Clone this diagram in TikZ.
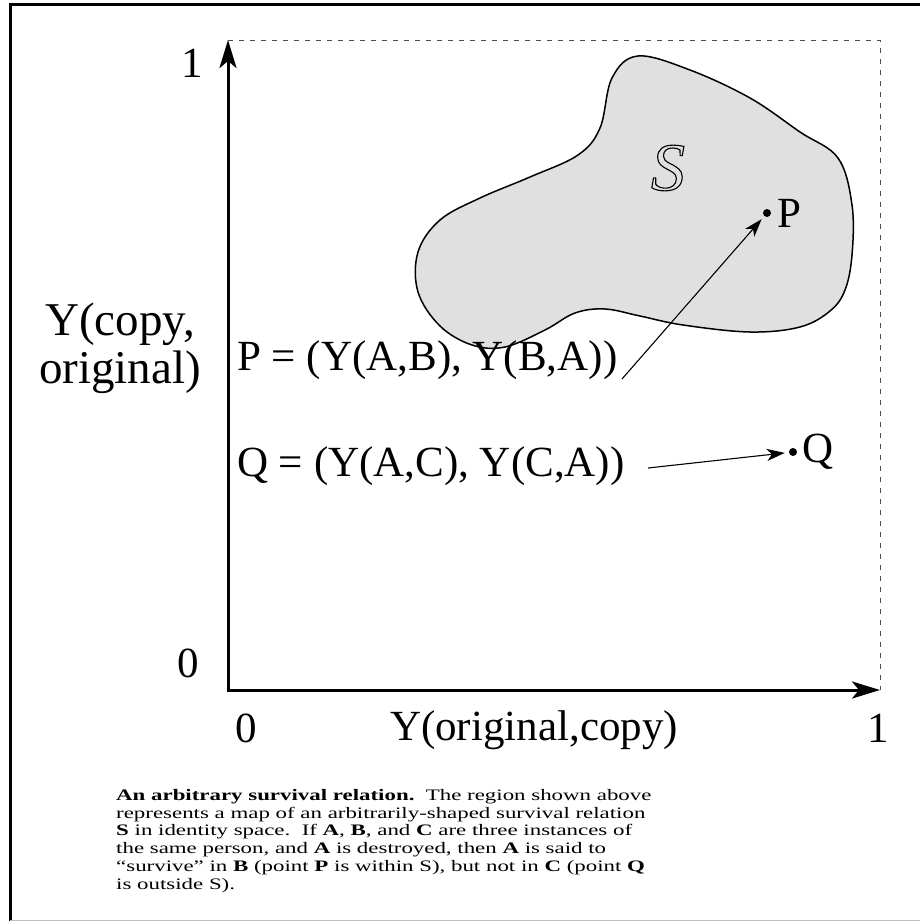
\documentclass[tikz,border=0pt]{standalone}
\usepackage{fontspec}
\setmainfont{Liberation Serif}
\newfontfamily\capfont[Ligatures=TeX,FakeStretch=1.43]{Liberation Serif}
\usetikzlibrary{arrows.meta}

\newcommand{\outlined}[1]{\special{pdf:literal direct 1 Tr 1.1 w}#1\special{pdf:literal direct 0 Tr}}

\begin{document}
\begin{tikzpicture}[
  x=1pt,y=-1pt,
  big/.style={font=\fontsize{43}{47}\selectfont,inner sep=0pt},
  axis/.style={line width=3pt,-{Stealth[length=28pt,width=17pt,inset=7pt]}},
  guide/.style={line width=0.8pt,dash pattern=on 5pt off 6pt,black!70},
  ptr/.style={line width=1.1pt,-{Stealth[length=18pt,width=12pt,inset=5pt]},shorten >=4pt},
  dot/.style={circle,fill,inner sep=0pt,minimum size=8pt},
  region/.style={draw,line width=1.5pt,fill=black!12}
]
\useasboundingbox (0,0) rectangle (920,923);
\draw[line width=3pt] (920,5) -- (10,5) -- (10,921);
\draw[line width=1pt,black!25] (10,920) -- (920,920);

\coordinate (O) at (228,690);
\coordinate (ytop) at (228,40);
\coordinate (xend) at (880,690);
\coordinate (corner) at (880,40);

\draw[region] plot[smooth cycle,tension=0.6] coordinates {
  (638,56) (690,70) (750,98) (800,132) (838,158) (852,205) (852,255)
  (845,290) (830,311) (800,327) (750,332) (683,325) (640,316) (605,309)
  (575,313) (545,330) (505,347) (472,345) (440,326) (418,292) (418,252)
  (440,220) (480,198) (530,177) (578,155) (600,128) (612,78)};
\node[font=\fontsize{68}{68}\selectfont\itshape] (S) at (668,168) {\outlined{S}};

\draw[guide] (ytop) -- (corner) -- (xend);
\draw[axis] (O) -- (ytop);
\draw[axis] ([xshift=-1.5pt]O) -- (xend);

\node[big] (y1) at (192,63) {1};
\node[big] (y0) at (188,663) {0};
\node[big] (x0) at (246,728) {0};
\node[big] (x1) at (878,728) {1};
\node[big] (xlab) at (534,730) {Y(original,copy)};
\node[big,font=\fontsize{47}{48}\selectfont,align=center] (ylab) at (120,348) {Y(copy,\\original)};

\node[dot] (pdot) at (767,213) {};
\node[big,anchor=west] (plab) at ([xshift=6pt]pdot.east) {P};
\node[dot] (qdot) at (793,452) {};
\node[big,anchor=west] (qlab) at ([xshift=5pt]qdot.east) {Q};

\node[big,anchor=west] (ptext) at (237,360) {P = (Y(A,B), Y(B,A))};
\node[big,anchor=west] (qtext) at (237,466) {Q = (Y(A,C), Y(C,A))};
\coordinate (pstart) at (622,379);
\coordinate (qstart) at (648,468);
\draw[ptr] (pstart) -- (pdot);
\draw[ptr] (qstart) -- (qdot);

\node[anchor=north west,align=left,inner sep=0pt,
  font=\capfont\fontsize{16}{17.8}\selectfont] (caption) at (116,789) {%
\textbf{An arbitrary survival relation.}\ \ The region shown above\\
represents a map of an arbitrarily-shaped survival relation\\
\textbf{S} in identity space.\ \ If \textbf{A}, \textbf{B}, and \textbf{C} are three instances of\\
the same person, and \textbf{A} is destroyed, then \textbf{A} is said to\\
``survive'' in \textbf{B} (point \textbf{P} is within S), but not in \textbf{C} (point \textbf{Q}\\
is outside S).};
\end{tikzpicture}
\end{document}
